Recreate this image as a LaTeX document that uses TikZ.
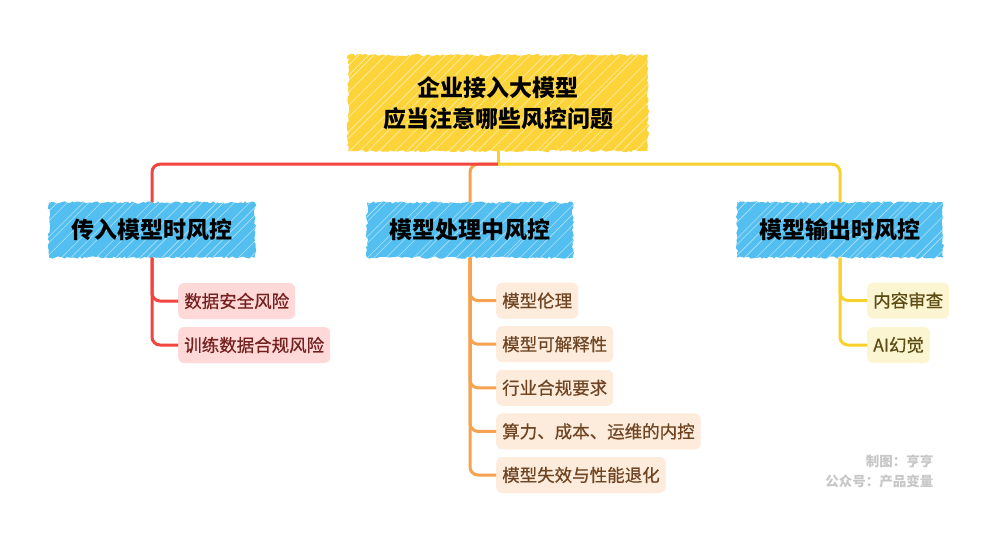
\documentclass[tikz,border=0pt]{standalone}
\usepackage{fontspec}
\setmainfont{Noto Sans CJK SC}
\newfontfamily\leaffont{Noto Sans CJK SC}[FakeBold=0.6]
\usetikzlibrary{calc,positioning,decorations.pathmorphing}
\definecolor{cyel}{HTML}{FCD43A}
\definecolor{cblue}{HTML}{52BFF0}
\definecolor{cred}{HTML}{F2453F}
\definecolor{corg}{HTML}{F6A24E}
\definecolor{cyln}{HTML}{F8D12E}
\definecolor{fred}{HTML}{FFD9D8}
\definecolor{forg}{HTML}{FDEBDB}
\definecolor{fyel}{HTML}{FCF5D2}
\definecolor{tred}{HTML}{74201F}
\definecolor{torg}{HTML}{6E4422}
\definecolor{tyel}{HTML}{5C4C14}

\begin{document}
\begin{tikzpicture}[x=1pt, y=-1pt,
  hatch/.style={path picture={
    \foreach \k in {0,...,40}
      \draw[white, opacity=.55, line width=.6pt]
        ([xshift={\k*11pt-110pt+4pt*rand}]path picture bounding box.south west) -- ++(110pt,110pt);}},
  nsketch/.style={fill=#1, decorate, decoration={random steps, segment length=2.5pt, amplitude=1.2pt},
    hatch, text=black, font=\bfseries\fontsize{23}{31}\selectfont},
  nroot/.style={nsketch=cyel, minimum width=300pt, minimum height=96pt, align=center},
  ntopic/.style={nsketch=cblue, minimum width=206pt, minimum height=55pt},
  nleaf/.style={fill=#1, rounded corners=6pt, anchor=west, inner xsep=6pt, minimum height=36pt,
    font=\leaffont\fontsize{17.5}{20}\selectfont},
  wmark/.style={anchor=east, text=black!22, font=\bfseries\fontsize{13.5}{15}\selectfont},
  lbase/.style={line width=3pt, rounded corners=8pt}
 ]
  \useasboundingbox[fill=white] (0,0) rectangle (1000,552);

  \node[nroot] (root) at (498,103) {企业接入大模型\\应当注意哪些风控问题};
  \foreach \n/\x/\t in {in/152/传入模型时风控, mid/470/模型处理中风控, out/840/模型输出时风控}
    \node[ntopic] (\n) at (\x,230) {\t};

  % root to the three topics
  \coordinate (jroot) at ([yshift=-13pt]root.south);
  \draw[lbase, corg] (jroot) -| (mid.north);
  \draw[line width=3pt, cyln] (root.south) -- (jroot);
  \draw[lbase, cred] (jroot) -| (in.north);
  \draw[lbase, cyln] (jroot) -| (out.north);

  % leaves
  \foreach \t [count=\i] in {数据安全风险, 训练数据合规风险} {
    \node[nleaf=fred, text=tred] (in\i) at (178,257+44*\i) {\t};
    \draw[lbase, cred] (in.south) |- (in\i.west);
  }
  \foreach \t [count=\i] in {模型伦理, 模型可解释性, 行业合规要求, 算力、成本、运维的内控, 模型失效与性能退化} {
    \node[nleaf=forg, text=torg] (mid\i) at (496,257+43.6*\i) {\t};
    \draw[lbase, corg] (mid.south) |- (mid\i.west);
  }
  \foreach \t [count=\i] in {内容审查, AI幻觉} {
    \node[nleaf=fyel, text=tyel] (out\i) at (867,256+44.5*\i) {\t};
    \draw[lbase, cyln] (out.south) |- (out\i.west);
  }

  \node[wmark] (credit) at (937,461) {制图：亨亨};
  \node[wmark] (account) at (937,481) {公众号：产品变量};
\end{tikzpicture}
\end{document}
